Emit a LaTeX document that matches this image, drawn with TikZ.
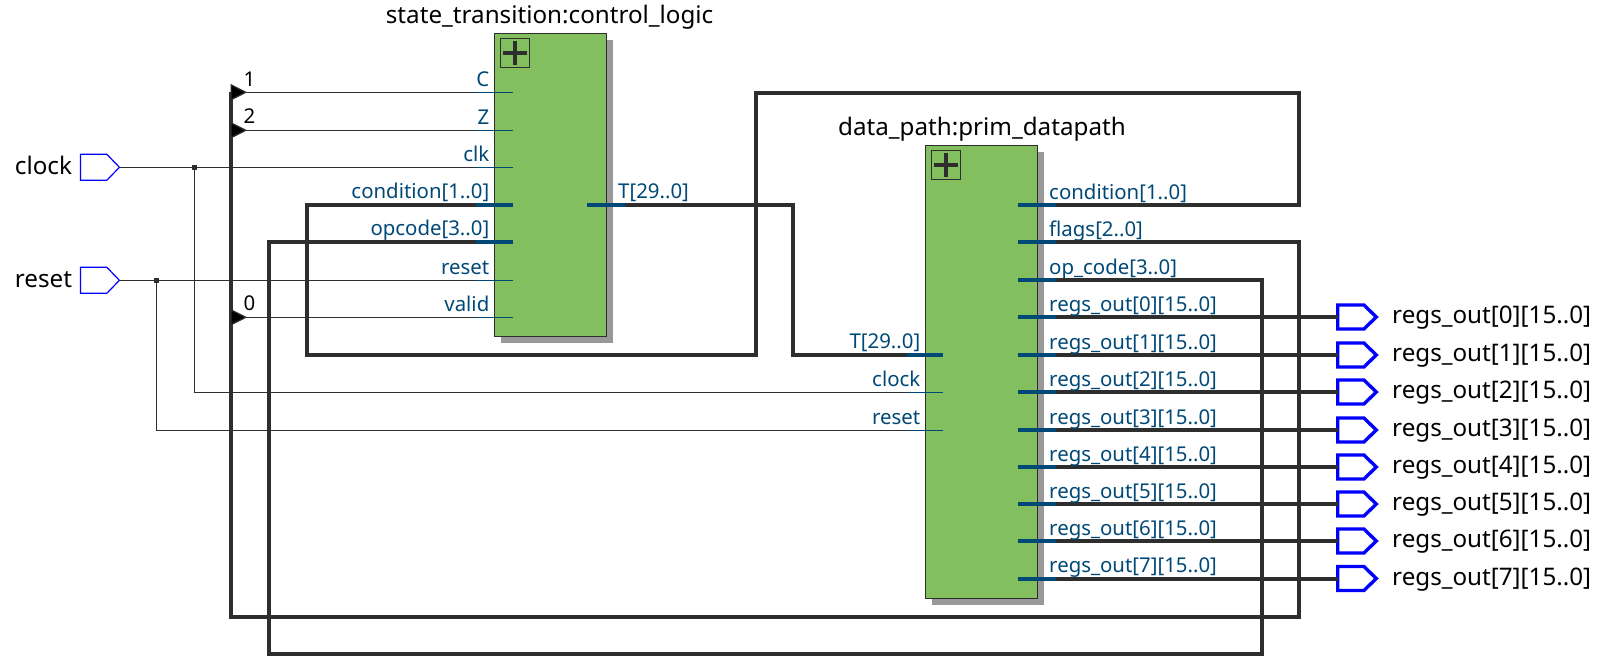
\documentclass[tikz,border=0pt]{standalone}
\usepackage{fontspec}
\setmainfont{Noto Sans}
\usetikzlibrary{arrows.meta, positioning, shadows, shapes.symbols}
\definecolor{wirecol}{HTML}{2E2E2E}
\definecolor{portcol}{HTML}{004876}
\definecolor{blockcol}{HTML}{83BF5F}
\definecolor{shadowcol}{HTML}{999999}

\begin{document}
\begin{tikzpicture}[
  x=1pt, y=-1pt,
  block/.style={rectangle, draw=wirecol, line width=1pt, fill=blockcol, anchor=north west, inner sep=0pt, outer sep=0pt,
              drop shadow={shadow xshift=6.7pt, shadow yshift=-6.7pt, fill=shadowcol, opacity=1}},
  plusbox/.style={rectangle, draw=wirecol, line width=1pt, minimum size=29.4pt, inner sep=0pt, outer sep=0pt},
  plusarm/.style={draw=wirecol, line width=4.4pt},
  wire/.style={draw=wirecol, line width=1.2pt},
  bus/.style={draw=wirecol, line width=4pt},
  thinstub/.style={draw=portcol, line width=1.2pt},
  busstub/.style={draw=portcol, line width=4pt},
  tapwire/.style={wire, {Triangle[reversed, length=16.6pt, width=16.6pt, fill=black]}-},
  dot/.style={rectangle, fill=wirecol, minimum size=5pt, inner sep=0pt, outer sep=0pt},
  pinin/.style={signal, signal to=east, signal pointer angle=92, draw=blue, line width=1.2pt, minimum width=39pt, minimum height=26pt, inner sep=0pt, outer sep=0pt, anchor=west},
  pinout/.style={signal, signal to=east, signal pointer angle=88, draw=blue, line width=3.4pt, minimum width=38.6pt, minimum height=24pt, inner sep=0pt, outer sep=0pt, anchor=west},
  portlabel/.style={text=portcol, inner sep=0pt, font=\fontsize{20.4}{24}\selectfont},
  namelabel/.style={text=black, inner sep=0pt, font=\fontsize{24.2}{28}\selectfont},
  tapnumber/.style={text=black, inner sep=0pt, font=\fontsize{20.4}{24}\selectfont}
]
\useasboundingbox (0,0) rectangle (1603,669);

% blocks
\node[block, minimum width=112.4pt, minimum height=303pt] (control) at (494.3,33.3) {};
\node[block, minimum width=112.1pt, minimum height=453pt] (datapath) at (925.6,145.3) {};
\node[plusbox] (control_plus) at (515,53) {};
\node[plusbox] (datapath_plus) at (946,165) {};
\draw[plusarm] (control_plus.center) ++(-12,0) -- ++(24,0) (control_plus.center) ++(0,-12) -- ++(0,24);
\draw[plusarm] (datapath_plus.center) ++(-12,0) -- ++(24,0) (datapath_plus.center) ++(0,-12) -- ++(0,24);
\node[namelabel, anchor=base west] (control_name) at (385.7,23.4) {state\_transition:control\_logic};
\node[namelabel, anchor=base west] (datapath_name) at (838,135.5) {data\_path:prim\_datapath};

% top level pins
\node[pinin] (clock) at (80.4,167.3) {};
\node[pinin] (reset) at (80.4,280.3) {};
\node[namelabel, anchor=base east] (clock_name) at (72.2,174) {clock};
\node[namelabel, anchor=base east] (reset_name) at (72.2,287.2) {reset};

% ports of control_logic
\foreach \pname/\ptext/\py/\pstub in {C/C/92.3/thinstub, Z/Z/130.3/thinstub, clk/clk/167.3/thinstub,
    condition/{condition[1..0]}/204.7/busstub, opcode/{opcode[3..0]}/241.7/busstub,
    reset/reset/280.3/thinstub, valid/valid/317.3/thinstub} {
  \coordinate (cl_\pname) at (475.5,\py);
  \draw[\pstub] (cl_\pname) -- ++(37,0);
  \node[portlabel, anchor=base east] (cl_\pname_text) at (489.5,\py-6) {\ptext};
}
\coordinate (cl_T) at (625,204.7);
\draw[busstub] (cl_T) -- ++(-38,0);
\node[portlabel, anchor=base west] (cl_T_text) at (618,198.7) {T[29..0]};

% ports of prim_datapath
\foreach \pname/\ptext/\py/\pstub in {T/{T[29..0]}/354.7/busstub, clock/clock/392.3/thinstub, reset/reset/430.3/thinstub} {
  \coordinate (dp_\pname) at (906.6,\py);
  \draw[\pstub] (dp_\pname) -- ++(36,0);
  \node[portlabel, anchor=base east] (dp_\pname_text) at (920.5,\py-6) {\ptext};
}
\foreach \pname/\ptext/\py in {condition/{condition[1..0]}/205, flags/{flags[2..0]}/242, opcode/{op\_code[3..0]}/280} {
  \coordinate (dp_\pname) at (1056,\py);
  \draw[busstub] (dp_\pname) -- ++(-38,0);
  \node[portlabel, anchor=base west] (dp_\pname_text) at (1049,\py-6) {\ptext};
}

% regs_out
\foreach \i/\py in {0/317, 1/355, 2/392, 3/430, 4/467, 5/504, 6/541, 7/578.5} {
  \coordinate (dp_regs\i) at (1056,\py);
  \node[pinout] (regs\i) at (1337.7,\py) {};
  \draw[bus] (dp_regs\i) -- (regs\i.west);
  \draw[busstub] (dp_regs\i) -- ++(-38,0);
  \node[portlabel, anchor=base west] (dp_regs\i_text) at (1049,\py-6) {regs\_out[\i][15..0]};
  \node[namelabel, anchor=base west] (regs\i_name) at (1392,\py+6.9) {regs\_out[\i][15..0]};
}

% thin nets
\node[dot] (clock_dot) at (194.3,167.3) {};
\node[dot] (reset_dot) at (156.3,280.3) {};
\draw[wire] (clock.east) -- (cl_clk);
\draw[wire] (reset.east) -- (cl_reset);
\draw[wire] (clock_dot) |- (dp_clock);
\draw[wire] (reset_dot) |- (dp_reset);

% flag bus
\coordinate (flags_se) at (1298.6,616.7);
\coordinate (flags_sw) at (231,616.7);
\coordinate (flags_top) at (231,92.3);
\coordinate (tap_C) at (230.5,92.3);
\coordinate (tap_Z) at (230.5,130.3);
\coordinate (tap_valid) at (230.5,317.3);
\draw[bus] (dp_flags) -| (flags_se) -- (flags_sw) -- (flags_top);
\draw[tapwire] (tap_C) -- (cl_C);
\draw[tapwire] (tap_Z) -- (cl_Z);
\draw[tapwire] (tap_valid) -- (cl_valid);
\node[tapnumber, anchor=base west] (tap_C_text) at (243.5,86) {1};
\node[tapnumber, anchor=base west] (tap_Z_text) at (243.5,123) {2};
\node[tapnumber, anchor=base west] (tap_valid_text) at (243.5,310.5) {0};

% condition, T and opcode nets
\coordinate (cond_ne) at (1298.6,93);
\coordinate (cond_nw) at (755.5,93);
\coordinate (cond_sw) at (307,354.7);
\coordinate (t_turn) at (793,354.7);
\coordinate (opc_se) at (1262,653.7);
\coordinate (opc_sw) at (269,653.7);
\draw[bus] (dp_condition) -| (cond_ne) -- (cond_nw) |- (cond_sw) |- (cl_condition);
\draw[bus] (cl_T) -| (t_turn) -- (dp_T);
\draw[bus] (dp_opcode) -| (opc_se) -- (opc_sw) |- (cl_opcode);

\end{tikzpicture}
\end{document}
